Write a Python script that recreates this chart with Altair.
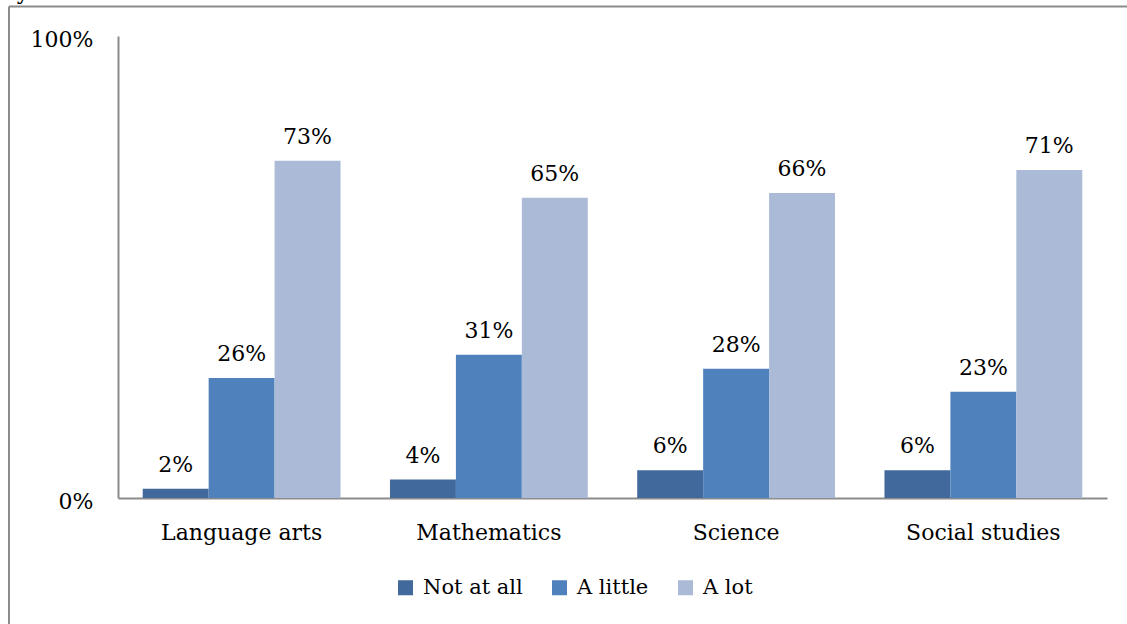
import altair as alt
import pandas as pd

# Survey shares per subject, one list per response level
subjects = ["Language arts", "Mathematics", "Science", "Social studies"]
levels = ["Not at all", "A little", "A lot"]
not_at_all = [2, 4, 6, 6]
a_little = [26, 31, 28, 23]
a_lot = [73, 65, 66, 71]
level_colors = ["#41699C", "#4F81BD", "#AABAD7"]

rows = []
for i, s in enumerate(subjects):
    for lvl, vals in zip(levels, [not_at_all, a_little, a_lot]):
        rows.append({"subject": s, "level": lvl, "value": vals[i],
                     "label": f"{vals[i]}%"})
df = pd.DataFrame(rows)

FONT = "DejaVu Serif"
FS = 22
GRAY = "#8C8C8C"

x_enc = alt.X("subject:N", sort=subjects, title=None,
              scale=alt.Scale(paddingInner=0.2, paddingOuter=0.1),
              axis=alt.Axis(labelAngle=0, ticks=False, domainColor=GRAY,
                            domainWidth=2, labelPadding=24, labelFontSize=FS,
                            labelColor="#000000", labelFont=FONT))
xoff = alt.XOffset("level:N", sort=levels)
y_enc = alt.Y("value:Q", title=None,
              scale=alt.Scale(domain=[0, 100], nice=False),
              axis=alt.Axis(values=[0, 100], labelExpr="datum.value + '%'",
                            ticks=False, grid=False, domainColor=GRAY,
                            domainWidth=2, labelPadding=25, labelFontSize=FS,
                            labelOffset=3, labelFlush=False,
                            labelColor="#000000", labelFont=FONT))

base = alt.Chart(df)

bars = base.mark_bar().encode(
    x=x_enc,
    xOffset=xoff,
    y=y_enc,
    color=alt.Color("level:N", sort=levels, title=None,
                    scale=alt.Scale(domain=levels, range=level_colors),
                    legend=alt.Legend(orient="none", direction="horizontal",
                                      legendX=277, legendY=541, padding=0,
                                      symbolType="square", symbolSize=225,
                                      symbolStrokeWidth=0, labelOffset=7,
                                      columnPadding=26, labelFontSize=21,
                                      labelFont=FONT, labelColor="#000000")),
)

labels = base.mark_text(baseline="alphabetic", dy=-17, fontSize=FS,
                        font=FONT, color="#000000").encode(
    x=alt.X("subject:N", sort=subjects),
    xOffset=xoff,
    y="value:Q",
    text="label:N",
)

# Outer frame of the figure (top and left edges)
one = pd.DataFrame({"k": [0]})
frame_top = alt.Chart(one).mark_rule(color=GRAY, strokeWidth=2).encode(
    x=alt.value(-109), x2=alt.value(1030), y=alt.value(-29.5))
frame_left = alt.Chart(one).mark_rule(color=GRAY, strokeWidth=2).encode(
    x=alt.value(-109), y=alt.value(-29.5), y2=alt.value(620))
cut_title = alt.Chart(one).mark_text(text="y", fontSize=FS, font=FONT,
                                     color="#000000", baseline="alphabetic").encode(
    x=alt.value(-95), y=alt.value(-37))

chart = alt.layer(frame_top, frame_left, cut_title, bars, labels).properties(
    width=989, height=462,
    autosize=alt.AutoSizeParams(type="none"),
    padding={"left": 118, "top": 36, "right": 20, "bottom": 126},
    background="#FFFFFF",
).configure_view(stroke=None)

chart.save("out.html", embed_options={"renderer": "svg", "actions": False})
